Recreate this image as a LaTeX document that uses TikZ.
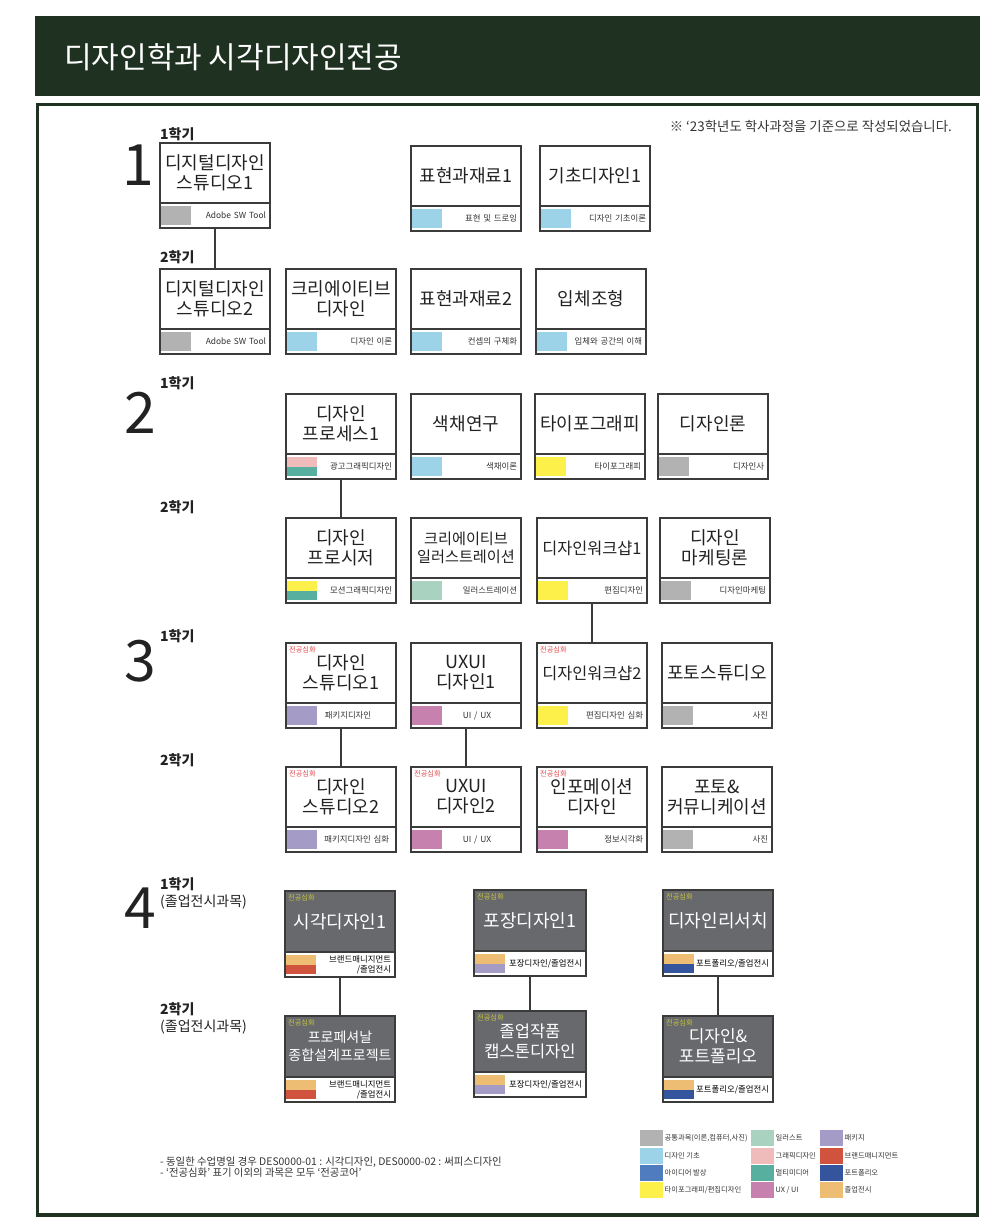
\documentclass[tikz,border=0pt]{standalone}
\usepackage{fontspec}
\setmainfont{Noto Sans CJK KR}
\usetikzlibrary{positioning}
\definecolor{headgreen}{HTML}{1F3121}
\definecolor{boxline}{HTML}{3B3B3B}
\definecolor{titleblack}{HTML}{222222}
\definecolor{labelgray}{HTML}{333333}
\definecolor{tagred}{HTML}{E5484D}
\definecolor{tagyellow}{HTML}{C8C43C}
\definecolor{darkbox}{HTML}{68696D}
\definecolor{cgray}{HTML}{B2B2B2}
\definecolor{csky}{HTML}{9DD3E8}
\definecolor{cblue}{HTML}{4F7CBF}
\definecolor{cyellow}{HTML}{FDF04A}
\definecolor{cmint}{HTML}{A9D3C0}
\definecolor{cpink}{HTML}{F0BCBB}
\definecolor{cteal}{HTML}{57AF9F}
\definecolor{cmag}{HTML}{C681AE}
\definecolor{clav}{HTML}{A49BC7}
\definecolor{cred}{HTML}{D0533E}
\definecolor{cnavy}{HTML}{34549E}
\definecolor{corange}{HTML}{EDBD73}
\begin{document}
\begin{tikzpicture}[x=1pt, y=-1pt]
    \tikzset{crs/.style={draw=boxline, line width=2.6pt, fill=white, outer sep=0pt, inner sep=1pt,
        minimum width=110pt, minimum height=60pt, anchor=north west, align=center,
        text=titleblack, font=\fontsize{18}{20}\selectfont},
      dark/.style={crs, fill=darkbox, text=white, minimum height=61pt},
      wide/.style={minimum width=112pt, text width=104pt},
      strip/.style 2 args={draw=boxline, line width=2.6pt, fill=white, outer sep=0pt,
        minimum width=110pt, minimum height=25pt, text width=102pt, inner xsep=4pt, inner ysep=1pt,
        align=right, text=labelgray, font=\fontsize{8.4}{9.6}\selectfont,
        path picture={
          \fill[#2] ([xshift=1.3pt,yshift=2.8pt]path picture bounding box.south west)
            rectangle ([xshift=31.3pt]path picture bounding box.west);
          \fill[#1] ([xshift=1.3pt]path picture bounding box.west)
            rectangle ([xshift=31.3pt,yshift=-2.8pt]path picture bounding box.north west);
        }},
      tagr/.style={anchor=north west, inner sep=0pt, xshift=3pt, yshift=-3pt,
        font=\fontsize{7.2}{7.5}\selectfont, text=tagred},
      tagy/.style={tagr, text=tagyellow},
      num/.style={inner sep=0pt, text=titleblack, font=\fontsize{57}{57}\selectfont},
      semlbl/.style={anchor=west, inner sep=0pt, text=titleblack, font=\bfseries\fontsize{14}{16}\selectfont},
      link/.style={every edge/.style={draw=boxline, line width=2.8pt}},
      legendkey/.style={minimum width=23pt, minimum height=16pt, inner sep=0pt, anchor=north west},
      legendtext/.style={inner sep=1pt, text=labelgray, font=\fontsize{7.3}{8.5}\selectfont}};
    \useasboundingbox (0,0) rectangle (1006,1232);

    % header and frame
    \fill[headgreen] (35,16) rectangle (980,96);
    \node[anchor=west, inner sep=0pt, text=white, font=\fontsize{30}{34}\selectfont] (head) at (64,57) {디자인학과 시각디자인전공};
    \draw[headgreen, line width=3.3pt] (37.7,104.7) rectangle (977.5,1215);
    \node[anchor=east, inner sep=0pt, text=labelgray, font=\fontsize{13.4}{15}\selectfont] (basis) at (952,126) {※ ‘23학년도 학사과정을 기준으로 작성되었습니다.};

    % year labels
    \node[num] (n1) at (138,165) {1};
    \node[num] (n2) at (140,413) {2};
    \node[num] (n3) at (140,661) {3};
    \node[num] (n4) at (140,908) {4};
    \node[semlbl] (y1a) at (160,134) {1학기};
    \node[semlbl] (y1b) at (160,257) {2학기};
    \node[semlbl] (y2a) at (160,383) {1학기};
    \node[semlbl] (y2b) at (160,507) {2학기};
    \node[semlbl] (y3a) at (160,636) {1학기};
    \node[semlbl] (y3b) at (160,760) {2학기};
    \node[semlbl, anchor=north west, align=left, font=\fontsize{14}{17}\selectfont] (y4a) at (160,877) {{\bfseries 1학기}\\(졸업전시과목)};
    \node[semlbl, anchor=north west, align=left, font=\fontsize{14}{17}\selectfont] (y4b) at (160,1002) {{\bfseries 2학기}\\(졸업전시과목)};

    % 1st year
    \node[crs] (dd1) at (160,143) {디지털디자인\\스튜디오1};
    \node[strip={cgray}{cgray}, below=0pt of dd1] (dd1s) {Adobe SW Tool};
    \node[crs] (mat1) at (411,146) {표현과재료1};
    \node[strip={csky}{csky}, below=0pt of mat1] (mat1s) {표현 및 드로잉};
    \node[crs] (bas1) at (540,146) {기초디자인1};
    \node[strip={csky}{csky}, below=0pt of bas1] (bas1s) {디자인 기초이론};
    \node[crs] (dd2) at (160,269) {디지털디자인\\스튜디오2};
    \node[strip={cgray}{cgray}, below=0pt of dd2] (dd2s) {Adobe SW Tool};
    \node[crs] (crd) at (286,269) {크리에이티브\\디자인};
    \node[strip={csky}{csky}, below=0pt of crd] (crds) {디자인 이론};
    \node[crs] (mat2) at (411,269) {표현과재료2};
    \node[strip={csky}{csky}, below=0pt of mat2] (mat2s) {컨셉의 구체화};
    \node[crs] (sol) at (536,269) {입체조형};
    \node[strip={csky}{csky}, below=0pt of sol] (sols) {입체와 공간의 이해};

    % 2nd year
    \node[crs] (proc) at (286,394) {디자인\\프로세스1};
    \node[strip={cpink}{cteal}, below=0pt of proc] (procs) {광고그래픽디자인};
    \node[crs] (col) at (411,394) {색채연구};
    \node[strip={csky}{csky}, below=0pt of col] (cols) {색채이론};
    \node[crs] (typo) at (535,394) {타이포그래피};
    \node[strip={cyellow}{cyellow}, below=0pt of typo] (typos) {타이포그래피};
    \node[crs] (theo) at (658,394) {디자인론};
    \node[strip={cgray}{cgray}, below=0pt of theo] (theos) {디자인사};
    \node[crs] (prcd) at (286,518) {디자인\\프로시저};
    \node[strip={cyellow}{cteal}, below=0pt of prcd] (prcds) {모션그래픽디자인};
    \node[crs, font=\fontsize{15.2}{18.5}\selectfont] (ill) at (411,518) {크리에이티브\\일러스트레이션};
    \node[strip={cmint}{cmint}, below=0pt of ill] (ills) {일러스트레이션};
    \node[crs, font=\fontsize{16.3}{19}\selectfont] (ws1) at (537,518) {디자인워크샵1};
    \node[strip={cyellow}{cyellow}, below=0pt of ws1] (ws1s) {편집디자인};
    \node[crs] (mkt) at (660,518) {디자인\\마케팅론};
    \node[strip={cgray}{cgray}, below=0pt of mkt] (mkts) {디자인마케팅};

    % 3rd year
    \node[crs, label={[tagr]north west:전공심화}] (st1) at (286,643) {디자인\\스튜디오1};
    \node[strip={clav}{clav}, below=0pt of st1, align=center] (st1s) {\hspace*{14pt}패키지디자인};
    \node[crs] (ux1) at (411,643) {UXUI\\디자인1};
    \node[strip={cmag}{cmag}, below=0pt of ux1, align=center] (ux1s) {\hspace*{22pt}UI / UX};
    \node[crs, font=\fontsize{16.3}{19}\selectfont, label={[tagr]north west:전공심화}] (ws2) at (537,643) {디자인워크샵2};
    \node[strip={cyellow}{cyellow}, below=0pt of ws2] (ws2s) {편집디자인 심화};
    \node[crs] (pho) at (662,643) {포토스튜디오};
    \node[strip={cgray}{cgray}, below=0pt of pho] (phos) {사진};
    \node[crs, label={[tagr]north west:전공심화}] (st2) at (286,767) {디자인\\스튜디오2};
    \node[strip={clav}{clav}, below=0pt of st2] (st2s) {패키지디자인 심화\hspace*{3pt}};
    \node[crs, label={[tagr]north west:전공심화}] (ux2) at (411,767) {UXUI\\디자인2};
    \node[strip={cmag}{cmag}, below=0pt of ux2, align=center] (ux2s) {\hspace*{22pt}UI / UX};
    \node[crs, label={[tagr]north west:전공심화}] (info) at (537,767) {인포메이션\\디자인};
    \node[strip={cmag}{cmag}, below=0pt of info] (infos) {정보시각화};
    \node[crs] (phc) at (662,767) {포토\&\\커뮤니케이션};
    \node[strip={cgray}{cgray}, below=0pt of phc] (phcs) {사진};

    % 4th year
    \node[dark, label={[tagy]north west:전공심화}] (vis1) at (285,891) {시각디자인1};
    \node[strip={corange}{cred}, below=0pt of vis1, text=black] (vis1s) {브랜드매니지먼트\\/졸업전시};
    \node[dark, wide, label={[tagy]north west:전공심화}] (pkg1) at (474,890) {포장디자인1};
    \node[strip={corange}{clav}, wide, below=0pt of pkg1, text=black] (pkg1s) {포장디자인/졸업전시};
    \node[dark, label={[tagy]north west:전공심화}] (res) at (663,890) {디자인리서치};
    \node[strip={corange}{cnavy}, below=0pt of res, text=black] (ress) {포트폴리오/졸업전시};
    \node[dark, font=\fontsize{14}{18}\selectfont, label={[tagy]north west:전공심화}] (vis2) at (285,1016) {프로페셔날\\종합설계프로젝트};
    \node[strip={corange}{cred}, below=0pt of vis2, text=black] (vis2s) {브랜드매니지먼트\\/졸업전시};
    \node[dark, wide, font=\fontsize{16.5}{19.5}\selectfont, label={[tagy]north west:전공심화}] (pkg2) at (474,1011) {졸업작품\\캡스톤디자인};
    \node[strip={corange}{clav}, wide, below=0pt of pkg2, text=black] (pkg2s) {포장디자인/졸업전시};
    \node[dark, font=\fontsize{17}{20}\selectfont, label={[tagy]north west:전공심화}] (pfo) at (663,1016) {디자인\&\\포트폴리오};
    \node[strip={corange}{cnavy}, below=0pt of pfo, text=black] (pfos) {포트폴리오/졸업전시};

    {
      \path[link]
        (dd1s) edge (dd2)
        (procs) edge (prcd)
        (ws1s) edge (ws2)
        (st1s) edge (st2)
        (ux1s) edge (ux2)
        (vis1s) edge (vis2)
        (pkg1s) edge (pkg2)
        (ress) edge (pfo)
        ;
    }

    % notes
    \node[anchor=north west, inner sep=0pt, align=left, text=labelgray, font=\fontsize{10.4}{11}\selectfont] (fn) at (160,1157)
      {- 동일한 수업명일 경우 DES0000-01 : 시각디자인, DES0000-02 : 써피스디자인\\- ‘전공심화’ 표기 이외의 과목은 모두 ‘전공코어’};

    % legend
    \node[legendkey, fill=cgray, label={[legendtext]right:{공통과목(이론,컴퓨터,사진)}}] (lg1) at (640,1130) {};
    \node[legendkey, fill=csky, label={[legendtext]right:디자인 기초}] (lg2) at (640,1147.3) {};
    \node[legendkey, fill=cblue, label={[legendtext]right:아이디어 발상}] (lg3) at (640,1164.5) {};
    \node[legendkey, fill=cyellow, label={[legendtext]right:타이포그래피/편집디자인}] (lg4) at (640,1181.7) {};
    \node[legendkey, fill=cmint, label={[legendtext]right:일러스트}] (lg5) at (751,1130) {};
    \node[legendkey, fill=cpink, label={[legendtext]right:그래픽디자인}] (lg6) at (751,1147.3) {};
    \node[legendkey, fill=cteal, label={[legendtext]right:멀티미디어}] (lg7) at (751,1164.5) {};
    \node[legendkey, fill=cmag, label={[legendtext]right:UX / UI}] (lg8) at (751,1181.7) {};
    \node[legendkey, fill=clav, label={[legendtext]right:패키지}] (lg9) at (820,1130) {};
    \node[legendkey, fill=cred, label={[legendtext]right:브랜드매니지먼트}] (lg10) at (820,1147.3) {};
    \node[legendkey, fill=cnavy, label={[legendtext]right:포트폴리오}] (lg11) at (820,1164.5) {};
    \node[legendkey, fill=corange, label={[legendtext]right:졸업전시}] (lg12) at (820,1181.7) {};
\end{tikzpicture}
\end{document}
